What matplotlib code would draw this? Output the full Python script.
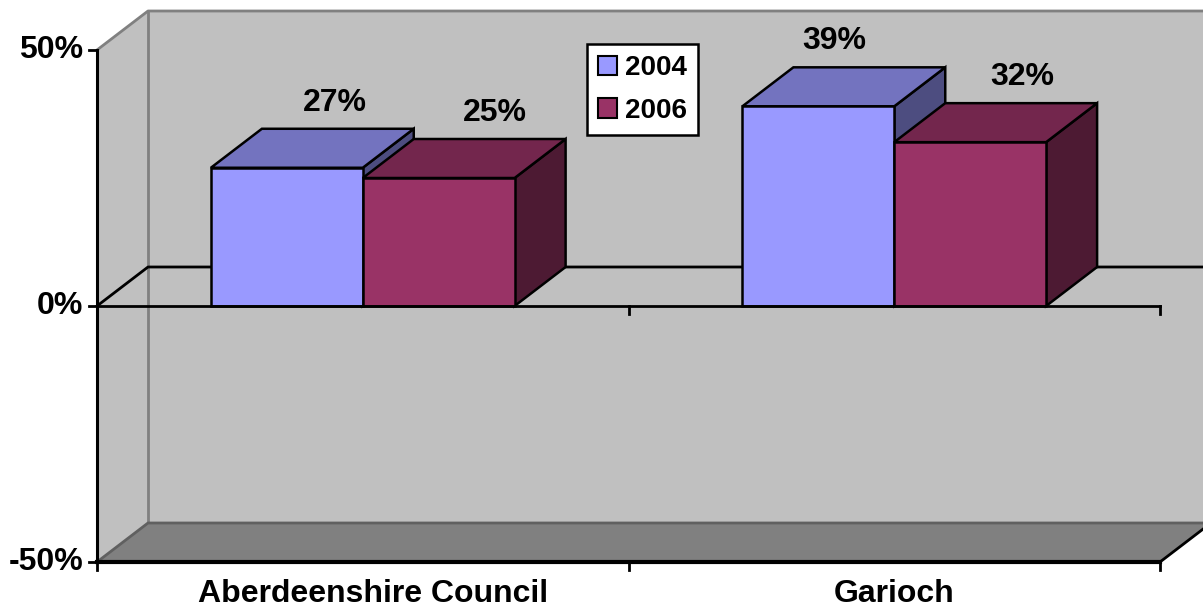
import numpy as np
import matplotlib.pyplot as plt
from matplotlib.patches import Polygon, Patch

# Data
categories = ['Aberdeenshire Council', 'Garioch']
years = ['2004', '2006']
values_2004 = [27, 39]
values_2006 = [25, 32]
y_ticks = [-50, 0, 50]
y_tick_labels = ['-50%', '0%', '50%']

# Colours (front, top, side)
face_colors = {'2004': ('#9999FF', '#7373BF', '#4D4D80'),
               '2006': ('#993366', '#73264D', '#4D1A33')}
wall_color = '#C0C0C0'
floor_color = '#808080'
edge_gray = '#808080'

# Pixel geometry of the reference (used to set the axes scale)
W, H = 1203, 610
X0_PX, CAT_PX = 97, 531.5      # x = -0.5 at 97 px, one category = 531.5 px
Y0_PX, PCT_PX = 306, 5.12      # 0% at 306 px, 1% = 5.12 px
DX = 51 / CAT_PX               # depth offset
DY = 39 / PCT_PX
bw = 1 / 3.5                   # gap width 150%

plt.rcParams['font.family'] = ['Liberation Sans', 'DejaVu Sans']
plt.rcParams['font.weight'] = 'bold'

fig = plt.figure(figsize=(W / 100, H / 100), dpi=100)
ax = fig.add_axes([0, 0, 1, 1])
ax.set_xlim(-0.5 - X0_PX / CAT_PX, -0.5 + (W - X0_PX) / CAT_PX)
ax.set_ylim(-(H - Y0_PX) / PCT_PX, Y0_PX / PCT_PX)
ax.axis('off')

xl, xr = -0.5, 1.5
yb, yt = -50, 50

# back wall
ax.add_patch(Polygon([(xl + DX, yb + DY), (xr + DX, yb + DY), (xr + DX, yt + DY), (xl + DX, yt + DY)],
                     closed=True, facecolor=wall_color, edgecolor='none', zorder=1))
# left wall
ax.add_patch(Polygon([(xl, yb), (xl + DX, yb + DY), (xl + DX, yt + DY), (xl, yt)],
                     closed=True, facecolor=wall_color, edgecolor='none', zorder=1))
# floor
ax.add_patch(Polygon([(xl, yb), (xr, yb), (xr + DX, yb + DY), (xl + DX, yb + DY)],
                     closed=True, facecolor=floor_color, edgecolor='none', zorder=1))
# wall edges
ax.plot([xl, xl + DX, xr + DX], [yt, yt + DY, yt + DY], color=edge_gray, lw=2, zorder=2)
ax.plot([xl + DX, xl + DX], [yb + DY, yt + DY], color=edge_gray, lw=2, zorder=2)
ax.plot([xl, xl + DX, xr + DX], [yb, yb + DY, yb + DY], color='#606060', lw=2, zorder=2)
ax.plot([xr, xr + DX], [yb, yb + DY], color='black', lw=2, zorder=2)

# zero plane lines (back)
ax.plot([xl, xl + DX, xr + DX], [0, DY, DY], color='black', lw=2, zorder=2)

# bars
label_shift = [[-0.006, 0.01], [-0.065, 0.002]]
for i, cat in enumerate(categories):
    for j, (yr, vals) in enumerate(zip(years, [values_2004, values_2006])):
        v = vals[i]
        x0 = i - bw + j * bw
        front, top, side = face_colors[yr]
        z = 3 + j
        ax.add_patch(Polygon([(x0 + bw, 0), (x0 + bw + DX, DY), (x0 + bw + DX, v + DY), (x0 + bw, v)],
                             closed=True, facecolor=side, edgecolor='black', lw=1.8, zorder=z))
        ax.add_patch(Polygon([(x0, v), (x0 + bw, v), (x0 + bw + DX, v + DY), (x0 + DX, v + DY)],
                             closed=True, facecolor=top, edgecolor='black', lw=1.8, zorder=z))
        ax.add_patch(Polygon([(x0, 0), (x0 + bw, 0), (x0 + bw, v), (x0, v)],
                             closed=True, facecolor=front, edgecolor='black', lw=1.8, zorder=z))
        ax.text(x0 + bw / 2 + DX + label_shift[i][j], v + DY + 5.1, f'{v}%',
                ha='center', va='center', fontsize=23, fontweight='bold', zorder=10)

# front zero line and axes
ax.plot([xl, xr], [0, 0], color='black', lw=2, zorder=6)
ax.plot([xl, xl], [yb, yt], color='black', lw=2.2, zorder=6)
ax.plot([xl, xr], [yb, yb], color='black', lw=3, zorder=6)

tick_x = 8 / CAT_PX
tick_y = 8 / PCT_PX
for t, lab in zip(y_ticks, y_tick_labels):
    ax.plot([xl - tick_x, xl], [t, t], color='black', lw=2, zorder=6)
    ax.text(xl - 14 / CAT_PX, t, lab, ha='right', va='center', fontsize=23, fontweight='bold')
for xt in [xl, 0.5, xr]:
    ax.plot([xt, xt], [yb, yb - tick_y], color='black', lw=2, zorder=6)
for xt in [0.5, xr]:
    ax.plot([xt, xt], [0, -tick_y], color='black', lw=2, zorder=6)

cat_label_y = -(609 - Y0_PX) / PCT_PX
for i, cat in enumerate(categories):
    ax.text(i + (0.02 if i == 0 else 0), cat_label_y, cat, ha='center', va='bottom',
            fontsize=23, fontweight='bold')

handles = [Patch(facecolor=face_colors[y][0], edgecolor='black', lw=1.5, label=y) for y in years]
leg = fig.legend(handles=handles, loc='upper left', bbox_to_anchor=(587 / W, 1 - 44 / H),
                 fontsize=20, frameon=True, fancybox=False, edgecolor='black', framealpha=1,
                 handlelength=0.68, handleheight=0.68, handletextpad=0.3, labelspacing=0.6,
                 borderpad=0.4, borderaxespad=0)
leg.get_frame().set_linewidth(1.8)
for t in leg.get_texts():
    t.set_fontweight('bold')

fig.savefig('out.png', dpi=100)
